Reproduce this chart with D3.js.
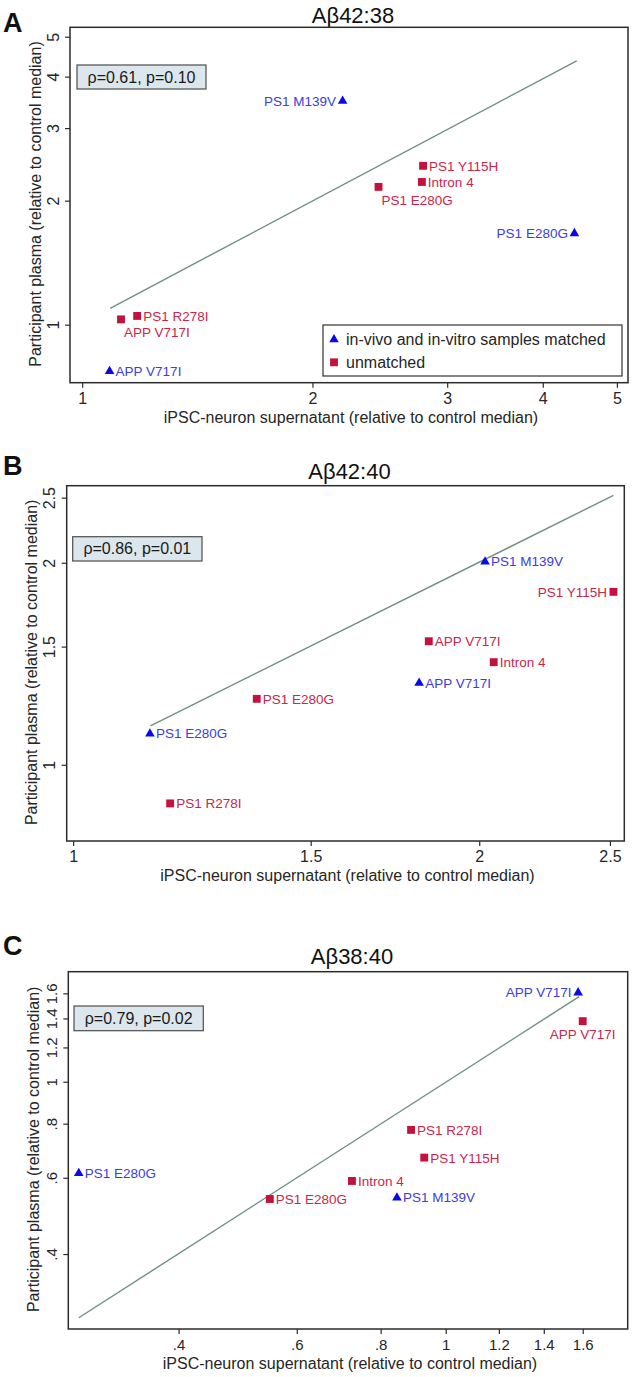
<!DOCTYPE html>
<html>
<head>
<meta charset="utf-8">
<script src="https://cdn.jsdelivr.net/npm/d3@7"></script>
<style>
  html, body { margin: 0; padding: 0; background: #fff; }
  svg { display: block; font-family: "Liberation Sans", Arial, sans-serif; }
</style>
</head>
<body>
<svg id="chart" width="633" height="1377"></svg>
<script>
// ---------------- DATA ----------------
const panelLetters = ["A", "B", "C"];
const panelTitles = ["Aβ42:38", "Aβ42:40", "Aβ38:40"];
const statTexts = ["ρ=0.61, p=0.10", "ρ=0.86, p=0.01", "ρ=0.79, p=0.02"];
const xAxisTitle = "iPSC-neuron supernatant (relative to control median)";
const yAxisTitle = "Participant plasma (relative to control median)";
const legendLabels = ["in-vivo and in-vitro samples matched", "unmatched"];

// Panel A: Aβ42:38
const labelsA = ["PS1 M139V", "PS1 E280G", "APP V717I", "PS1 Y115H", "Intron 4", "PS1 E280G", "PS1 R278I", "APP V717I"];
const groupsA = ["matched", "matched", "matched", "unmatched", "unmatched", "unmatched", "unmatched", "unmatched"];
const xA = [2.19, 4.40, 1.086, 2.79, 2.78, 2.44, 1.18, 1.124];
const yA = [3.50, 1.67, 0.773, 2.43, 2.22, 2.16, 1.05, 1.03];
const fitXA = [1.088, 4.43];
const fitYA = [1.096, 4.37];
const xTicksA = [1, 2, 3, 4, 5];
const xTickLabelsA = ["1", "2", "3", "4", "5"];
const yTicksA = [1, 2, 3, 4, 5];
const yTickLabelsA = ["1", "2", "3", "4", "5"];
const xDomainA = [0.964, 5.17];
const yDomainA = [0.723, 5.27];

// Panel B: Aβ42:40
const labelsB = ["PS1 E280G", "PS1 M139V", "APP V717I", "PS1 Y115H", "APP V717I", "Intron 4", "PS1 E280G", "PS1 R278I"];
const groupsB = ["matched", "matched", "matched", "unmatched", "unmatched", "unmatched", "unmatched", "unmatched"];
const xB = [1.14, 2.02, 1.805, 2.515, 1.835, 2.05, 1.368, 1.18];
const yB = [1.114, 2.01, 1.326, 1.81, 1.528, 1.422, 1.254, 0.876];
const fitXB = [1.141, 2.515];
const fitYB = [1.143, 2.52];
const xTicksB = [1, 1.5, 2, 2.5];
const xTickLabelsB = ["1", "1.5", "2", "2.5"];
const yTicksB = [1, 1.5, 2, 2.5];
const yTickLabelsB = ["1", "1.5", "2", "2.5"];
const xDomainB = [0.989, 2.562];
const yDomainB = [0.770, 2.605];

// Panel C: Aβ38:40
const labelsC = ["APP V717I", "PS1 M139V", "PS1 E280G", "APP V717I", "PS1 R278I", "PS1 Y115H", "Intron 4", "PS1 E280G"];
const groupsC = ["matched", "matched", "matched", "unmatched", "unmatched", "unmatched", "unmatched", "unmatched"];
const xC = [1.575, 0.846, 0.284, 1.60, 0.888, 0.929, 0.725, 0.547];
const yC = [1.61, 0.541, 0.616, 1.38, 0.774, 0.668, 0.590, 0.536];
const fitXC = [0.284, 1.58];
const fitYC = [0.285, 1.572];
const xTicksC = [0.4, 0.6, 0.8, 1, 1.2, 1.4, 1.6];
const xTickLabelsC = [".4", ".6", ".8", "1", "1.2", "1.4", "1.6"];
const yTicksC = [0.4, 0.6, 0.8, 1, 1.2, 1.4, 1.6];
const yTickLabelsC = [".4", ".6", ".8", "1", "1.2", "1.4", "1.6"];
const xDomainC = [0.274, 1.867];
const yDomainC = [0.2685, 1.795];

// ---------------- LAYOUT / STYLE ----------------
const panels = [
  { letter: panelLetters[0], title: panelTitles[0], stat: statTexts[0],
    labels: labelsA, groups: groupsA, xs: xA, ys: yA, fitX: fitXA, fitY: fitYA,
    xTicks: xTicksA, xTickLabels: xTickLabelsA, yTicks: yTicksA, yTickLabels: yTickLabelsA,
    xDomain: xDomainA, yDomain: yDomainA,
    frame: { l: 70, r: 628, t: 27.3, b: 382.7 },
    box: { x: 77, y: 65, w: 129, h: 24 },
    letterY: 31.5, titleY: 22.5, yTitleX: 41, tickFont: 16,
    pos: ["l", "l", "r", "r", "r", "b5", "r", "b5"], legend: true },
  { letter: panelLetters[1], title: panelTitles[1], stat: statTexts[1],
    labels: labelsB, groups: groupsB, xs: xB, ys: yB, fitX: fitXB, fitY: fitYB,
    xTicks: xTicksB, xTickLabels: xTickLabelsB, yTicks: yTicksB, yTickLabels: yTickLabelsB,
    xDomain: xDomainB, yDomain: yDomainB,
    frame: { l: 66.7, r: 624.3, t: 485.7, b: 841 },
    box: { x: 72.7, y: 536.7, w: 129.3, h: 24.3 },
    letterY: 475, titleY: 478.5, yTitleX: 37, tickFont: 16,
    pos: ["r", "r", "r", "l", "r", "r", "r", "r"], legend: false },
  { letter: panelLetters[2], title: panelTitles[2], stat: statTexts[2],
    labels: labelsC, groups: groupsC, xs: xC, ys: yC, fitX: fitXC, fitY: fitYC,
    xTicks: xTicksC, xTickLabels: xTickLabelsC, yTicks: yTicksC, yTickLabels: yTickLabelsC,
    xDomain: xDomainC, yDomain: yDomainC,
    frame: { l: 68.3, r: 627.7, t: 971.7, b: 1329 },
    box: { x: 74, y: 1006, w: 129.3, h: 24.7 },
    letterY: 955, titleY: 964, yTitleX: 39, tickFont: 15,
    pos: ["l", "r", "r", "b6", "r", "r", "r", "r"], legend: false }
];

const COL = {
  frame: "#2b2b2b",
  fit: "#6f9080",
  blueMark: "#0a0ae6",
  blueText: "#3c3ce0",
  redMark: "#c4123e",
  redText: "#c8264a",
  boxFill: "#dce6ed",
  boxStroke: "#4d4d4d",
  text: "#262626"
};

const svg = d3.select("#chart");
const triSym = d3.symbol().type(d3.symbolTriangle).size(40);
const sqSym = d3.symbol().type(d3.symbolSquare).size(62);

panels.forEach(p => {
  const f = p.frame;
  const x = d3.scaleLog().domain(p.xDomain).range([f.l, f.r]);
  const y = d3.scaleLog().domain(p.yDomain).range([f.b, f.t]);
  const g = svg.append("g");

  // Panel letter
  g.append("text").attr("x", 3).attr("y", p.letterY)
    .attr("font-size", 27).attr("font-weight", "bold").attr("fill", "#111")
    .text(p.letter);

  // Title
  g.append("text").attr("x", (f.l + f.r) / 2 + 4).attr("y", p.titleY)
    .attr("text-anchor", "middle").attr("font-size", 22).attr("fill", "#111")
    .text(p.title);

  // X axis
  const xAxis = d3.axisBottom(x).tickValues(p.xTicks)
    .tickFormat((d, i) => p.xTickLabels[i]).tickSize(5).tickPadding(4);
  const gx = g.append("g").attr("transform", `translate(0,${f.b})`).call(xAxis);
  gx.select(".domain").remove();
  gx.selectAll(".tick line").attr("stroke", COL.frame).attr("stroke-width", 1.2);
  gx.selectAll(".tick text").attr("font-size", p.tickFont).attr("fill", COL.text)
    .attr("font-family", "Liberation Sans, Arial, sans-serif").attr("dy", "0.78em");

  // Y axis
  const yAxis = d3.axisLeft(y).tickValues(p.yTicks)
    .tickFormat((d, i) => p.yTickLabels[i]).tickSize(5).tickPadding(0);
  const gy = g.append("g").attr("transform", `translate(${f.l},0)`).call(yAxis);
  gy.select(".domain").remove();
  gy.selectAll(".tick line").attr("stroke", COL.frame).attr("stroke-width", 1.2);
  gy.selectAll(".tick text").attr("font-size", p.tickFont).attr("fill", COL.text)
    .attr("font-family", "Liberation Sans, Arial, sans-serif")
    .attr("x", null).attr("dy", null)
    .attr("text-anchor", "middle")
    .attr("transform", "translate(-11.5,0) rotate(-90)");

  // Axis titles
  g.append("text").attr("x", (f.l + f.r) / 2 + 2).attr("y", f.b + 40)
    .attr("text-anchor", "middle").attr("font-size", 16).attr("fill", COL.text)
    .text(xAxisTitle);
  g.append("text")
    .attr("transform", `translate(${p.yTitleX},${(f.t + f.b) / 2 - 1}) rotate(-90)`)
    .attr("text-anchor", "middle").attr("font-size", 16).attr("fill", COL.text)
    .text(yAxisTitle);

  // Fit line
  const fitPts = p.fitX.map((v, i) => [x(v), y(p.fitY[i])]);
  g.append("path").attr("d", d3.line()(fitPts))
    .attr("fill", "none").attr("stroke", COL.fit).attr("stroke-width", 1.4);

  // Stat box
  g.append("rect").attr("x", p.box.x).attr("y", p.box.y)
    .attr("width", p.box.w).attr("height", p.box.h)
    .attr("fill", COL.boxFill).attr("stroke", COL.boxStroke).attr("stroke-width", 1.2);
  g.append("text").attr("x", p.box.x + p.box.w / 2).attr("y", p.box.y + p.box.h / 2 + 5.5)
    .attr("text-anchor", "middle").attr("font-size", 16).attr("fill", "#1a1a1a")
    .text(p.stat);

  // Points
  const data = p.labels.map((lab, i) => ({ lab, grp: p.groups[i], vx: p.xs[i], vy: p.ys[i], pos: p.pos[i] }));
  const pts = g.append("g");
  pts.selectAll("path.mk").data(data).join("path").attr("class", "mk")
    .attr("d", d => d.grp === "matched" ? triSym() : sqSym())
    .attr("transform", d => `translate(${x(d.vx)},${y(d.vy) + (d.grp === "matched" ? 0.5 : 0)})`)
    .attr("fill", d => d.grp === "matched" ? COL.blueMark : COL.redMark);

  pts.selectAll("text.lb").data(data).join("text").attr("class", "lb")
    .attr("font-size", 13.5)
    .attr("fill", d => d.grp === "matched" ? COL.blueText : COL.redText)
    .attr("x", d => {
      const cx = x(d.vx);
      if (d.pos === "r") return cx + 6;
      if (d.pos === "l") return cx - 6.5;
      if (d.pos === "b5") return cx + 3;
      return cx;
    })
    .attr("y", d => {
      const cy = y(d.vy);
      if (d.pos === "b5" || d.pos === "b6") return cy + 18;
      return cy + 5;
    })
    .attr("text-anchor", d => d.pos === "l" ? "end" : (d.pos === "b6" ? "middle" : "start"))
    .text(d => d.lab);

  // Legend (panel A only)
  if (p.legend) {
    const lg = g.append("g");
    lg.append("rect").attr("x", 323).attr("y", 325).attr("width", 299).attr("height", 51)
      .attr("fill", "#fff").attr("stroke", "#333").attr("stroke-width", 1.2);
    lg.append("path").attr("d", triSym()).attr("transform", "translate(334,339.5)").attr("fill", COL.blueMark);
    lg.append("path").attr("d", sqSym()).attr("transform", "translate(334,362.3)").attr("fill", COL.redMark);
    lg.append("text").attr("x", 346).attr("y", 345).attr("font-size", 16).attr("fill", COL.text).text(legendLabels[0]);
    lg.append("text").attr("x", 346).attr("y", 368).attr("font-size", 16).attr("fill", COL.text).text(legendLabels[1]);
  }

  // Frame
  g.append("rect").attr("x", f.l).attr("y", f.t).attr("width", f.r - f.l).attr("height", f.b - f.t)
    .attr("fill", "none").attr("stroke", COL.frame).attr("stroke-width", 1.5);
});
</script>
</body>
</html>
